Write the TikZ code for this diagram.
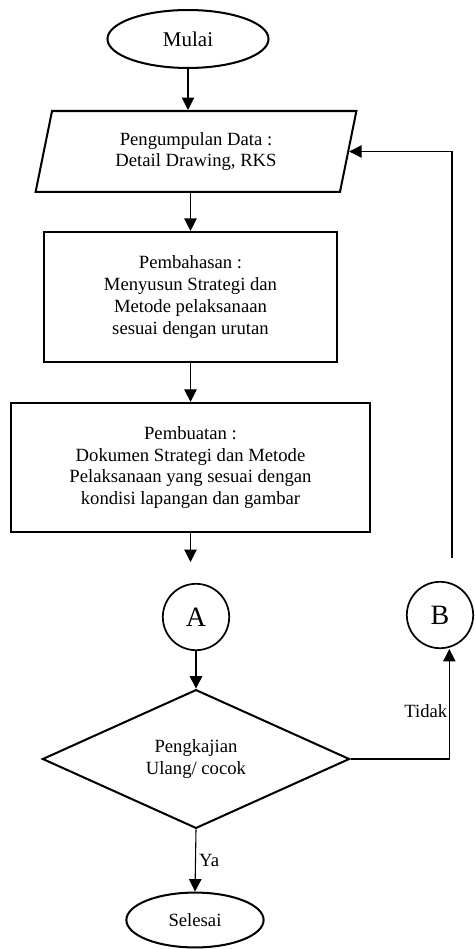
\documentclass[tikz,border=0pt]{standalone}
\usepackage{fontspec}
\setmainfont{Liberation Serif}
\usetikzlibrary{arrows.meta, positioning, shapes.geometric}

\begin{document}
\begin{tikzpicture}[
    x=0.0226cm, y=-0.0226cm,
    every node/.style={font=\fontsize{12}{14}\selectfont, align=center},
    term node/.style={ellipse, draw=black, line width=1.3pt, inner sep=0pt},
    io node/.style={trapezium, trapezium left angle=67, trapezium right angle=113,
        trapezium stretches body, draw=black, line width=1.3pt, inner sep=0pt,
        minimum width=7.25cm, minimum height=1.83cm},
    process node/.style={rectangle, draw=black, line width=1.3pt, inner sep=0pt},
    decision node/.style={diamond, draw=black, line width=1.3pt, inner sep=0pt,
        minimum width=6.94cm, minimum height=3.01cm},
    link node/.style={circle, draw=black, line width=1.1pt, minimum size=1.5cm,
        inner sep=0pt, font=\fontsize{18}{20}\selectfont},
    flow line/.style={line width=0.7pt, -{Triangle[length=8pt, width=8pt]}}
]
    \useasboundingbox (0,0) rectangle (475,949);

    \node[term node, minimum width=3.64cm, minimum height=1.31cm,
        font=\fontsize{13.5}{15}\selectfont] (start) at (188, 39) {Mulai};
    \node[io node] (data) at (196, 151.5) {Pengumpulan Data :\\Detail Drawing, RKS};
    \node[process node, minimum width=6.62cm, minimum height=2.94cm] (bahas) at (190.5, 297)
        {Pembahasan :\\Menyusun Strategi dan\\Metode pelaksanaan\\sesuai dengan urutan};
    \node[process node, minimum width=8.11cm, minimum height=2.92cm] (buat) at (190.5, 467.5)
        {Pembuatan :\\Dokumen Strategi dan Metode\\Pelaksanaan yang sesuai dengan\\kondisi lapangan dan gambar};
    \node[link node] (A) at (196, 617) {A};
    \node[link node] (B) at (440, 615) {B};
    \node[decision node] (kaji) at (196, 759) {Pengkajian\\Ulang/ cocok};
    \node[term node, minimum width=3.10cm, minimum height=1.24cm] (stop) at (195, 920) {Selesai};

    \coordinate (toA) at (190.5, 562);
    \coordinate (back) at (452, 558);

    \draw[flow line] (start.south) -- (start.south |- data.north);
    \draw[flow line] (data.south -| bahas.north) -- (bahas.north);
    \draw[flow line] (bahas.south) -- (buat.north);
    \draw[flow line] (buat.south) -- (toA);
    \draw[flow line] (A.south) -- (kaji.north);
    \draw[flow line] (kaji.south) -- node[right, inner sep=2pt] {Ya} (stop.north);
    \draw[flow line] (kaji.east) -| node[pos=0.72, left, inner sep=1pt] {Tidak} ([xshift=6]B.south);
    \draw[flow line] (back) |- (data.east); % kembali ke pengumpulan data
\end{tikzpicture}
\end{document}
